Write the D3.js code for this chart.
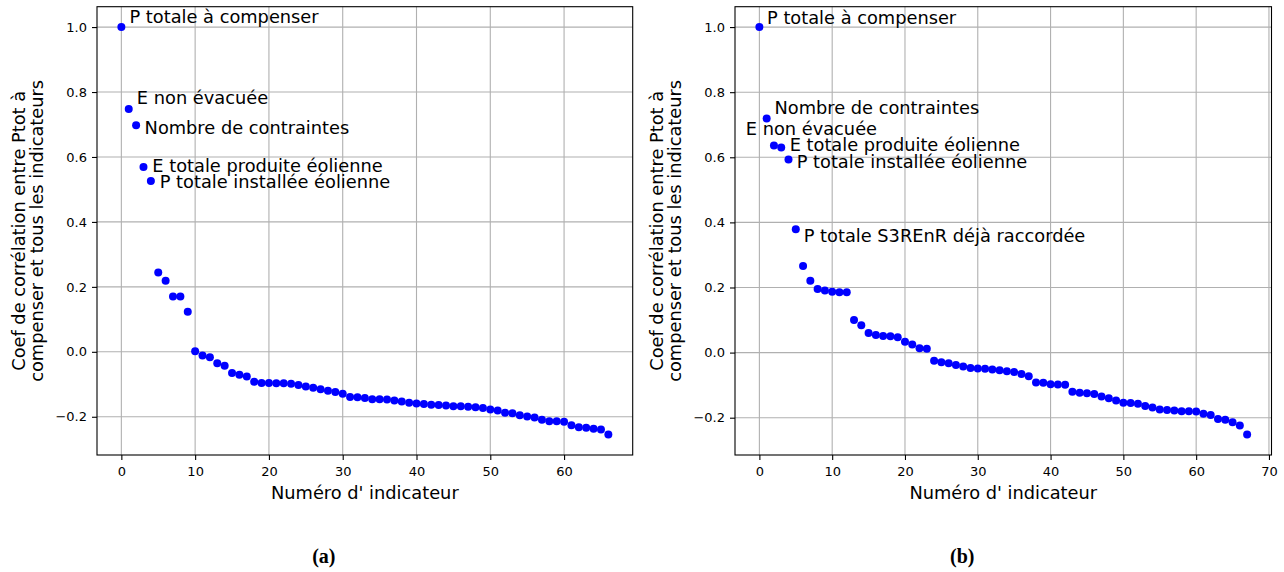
<!DOCTYPE html>
<html>
<head>
<meta charset="utf-8">
<script src="https://cdn.jsdelivr.net/npm/d3@7"></script>
<style>
  body { margin: 0; background: #fff; }
  svg { font-family: 'DejaVu Sans', sans-serif; }
</style>
</head>
<body>
<svg id="fig" width="1284" height="572"></svg>
<script>
// correlation values, one per indicator (index = position)
const valuesA = [1.0, 0.748, 0.698, 0.569, 0.526, 0.244, 0.219, 0.170, 0.170, 0.123,
  0.002, -0.011, -0.017, -0.035, -0.043, -0.065, -0.071, -0.076, -0.092, -0.096,
  -0.096, -0.097, -0.097, -0.098, -0.102, -0.107, -0.111, -0.115, -0.120, -0.124,
  -0.129, -0.139, -0.140, -0.142, -0.146, -0.146, -0.147, -0.150, -0.153, -0.157,
  -0.159, -0.161, -0.163, -0.164, -0.165, -0.168, -0.168, -0.169, -0.171, -0.173,
  -0.178, -0.181, -0.188, -0.189, -0.195, -0.199, -0.202, -0.209, -0.214, -0.214,
  -0.215, -0.226, -0.232, -0.234, -0.237, -0.239, -0.255]

const valuesB = [1.0, 0.719, 0.636, 0.630, 0.593, 0.379, 0.266, 0.221, 0.195, 0.191,
  0.187, 0.185, 0.185, 0.100, 0.084, 0.060, 0.054, 0.051, 0.050, 0.047,
  0.033, 0.025, 0.013, 0.012, -0.025, -0.030, -0.033, -0.038, -0.043, -0.047,
  -0.049, -0.050, -0.052, -0.054, -0.057, -0.060, -0.066, -0.073, -0.092, -0.093,
  -0.097, -0.098, -0.099, -0.120, -0.123, -0.125, -0.127, -0.135, -0.140, -0.147,
  -0.154, -0.155, -0.157, -0.164, -0.169, -0.175, -0.176, -0.178, -0.180, -0.180,
  -0.181, -0.188, -0.192, -0.204, -0.206, -0.214, -0.224, -0.252]

// annotations: text and where it sits, in data units
const labelsA = ['P totale à compenser', 'E non évacuée', 'Nombre de contraintes',
  'E totale produite éolienne', 'P totale installée éolienne']
const labelXA = [1.1, 2.1, 3.15, 4.2, 5.2]
const labelYA = [1.013, 0.763, 0.671, 0.555, 0.504]

const labelsB = ['P totale à compenser', 'Nombre de contraintes', 'E non évacuée',
  'E totale produite éolienne', 'P totale installée éolienne', 'P totale S3REnR déjà raccordée']
const labelXB = [1.05, 2.08, -1.87, 4.16, 5.12, 6.09]
const labelYB = [1.009, 0.733, 0.667, 0.618, 0.567, 0.340]

const xTicksA = [0, 10, 20, 30, 40, 50, 60]
const xTicksB = [0, 10, 20, 30, 40, 50, 60, 70]
const yTicks = [-0.2, 0.0, 0.2, 0.4, 0.6, 0.8, 1.0]

const yLabel = ['Coef de corrélation entre Ptot à', 'compenser et tous les indicateurs']
const xLabel = "Numéro d' indicateur"

const svg = d3.select('#fig')
const size = { top: 6.7, bottom: 455 }
const fmt = d3.format('.1f')
const bigFont = '17.8px'

// matplotlib style 5% padding around the data
function padded(ext) {
  const m = (ext[1] - ext[0]) * 0.05
  return [ext[0] - m, ext[1] + m]
}

function drawPanel(values, labels, lx, ly, xTicks, left, right, caption) {
  const idx = values.map((v, i) => i)
  const x = d3.scaleLinear().domain(padded(d3.extent(idx))).range([left, right])
  const y = d3.scaleLinear().domain(padded(d3.extent(values))).range([size.bottom, size.top])

  const g = svg.append('g')

  // grid
  g.append('g').selectAll('line.vx')
    .data(xTicks)
    .enter().append('line')
      .attr('x1', d => x(d)).attr('x2', d => x(d))
      .attr('y1', size.top).attr('y2', size.bottom)
      .style('stroke', '#b0b0b0').style('stroke-width', 1.1)
  g.append('g').selectAll('line.hy')
    .data(yTicks)
    .enter().append('line')
      .attr('x1', left).attr('x2', right)
      .attr('y1', d => y(d)).attr('y2', d => y(d))
      .style('stroke', '#b0b0b0').style('stroke-width', 1.1)

  // axes
  const xa = g.append('g')
    .attr('transform', `translate(0,${size.bottom})`)
    .call(d3.axisBottom(x).tickValues(xTicks).tickFormat(d3.format('d')).tickSize(5).tickPadding(6.5))
  const ya = g.append('g')
    .attr('transform', `translate(${left},0)`)
    .call(d3.axisLeft(y).tickValues(yTicks).tickFormat(fmt).tickSize(5).tickPadding(5))
  ;[xa, ya].forEach(a => {
    a.select('.domain').remove()
    a.selectAll('text').style('font-family', 'DejaVu Sans').style('font-size', '13px').style('fill', '#000')
    a.selectAll('line').style('stroke', '#000').style('stroke-width', 1.1)
  })

  // points
  g.append('g').selectAll('circle')
    .data(values)
    .enter().append('circle')
      .attr('cx', (d, i) => x(i))
      .attr('cy', d => y(d))
      .attr('r', 4)
      .style('fill', '#0000ff')

  // annotations
  g.append('g').selectAll('text')
    .data(labels)
    .enter().append('text')
      .attr('x', (d, i) => x(lx[i]))
      .attr('y', (d, i) => y(ly[i]))
      .style('font-size', bigFont)
      .text(d => d)

  // frame
  g.append('rect')
    .attr('x', left).attr('y', size.top)
    .attr('width', right - left).attr('height', size.bottom - size.top)
    .style('fill', 'none').style('stroke', '#000').style('stroke-width', 1.1)

  // axis titles
  const cy = (size.top + size.bottom) / 2
  g.append('text')
    .attr('transform', `translate(${left - 69.2},${cy}) rotate(-90)`)
    .attr('text-anchor', 'middle')
    .style('font-size', bigFont)
    .selectAll('tspan')
    .data(yLabel)
    .enter().append('tspan')
      .attr('x', 0)
      .attr('y', (d, i) => i === 0 ? -9.2 : null)
      .attr('dy', (d, i) => i === 0 ? '0.35em' : 18.4)
      .text(d => d)

  g.append('text')
    .attr('x', (left + right) / 2)
    .attr('y', 499)
    .attr('text-anchor', 'middle')
    .style('font-size', bigFont)
    .text(xLabel)

  g.append('text')
    .attr('x', (left + right) / 2 - 41)
    .attr('y', 563)
    .attr('text-anchor', 'middle')
    .style('font-family', "'Liberation Serif', serif")
    .style('font-weight', 'bold')
    .style('font-size', '20px')
    .text(caption)
}

drawPanel(valuesA, labelsA, labelXA, labelYA, xTicksA, 97, 632.7, '(a)')
drawPanel(valuesB, labelsB, labelXB, labelYB, xTicksB, 735, 1271.5, '(b)')
</script>
</body>
</html>
